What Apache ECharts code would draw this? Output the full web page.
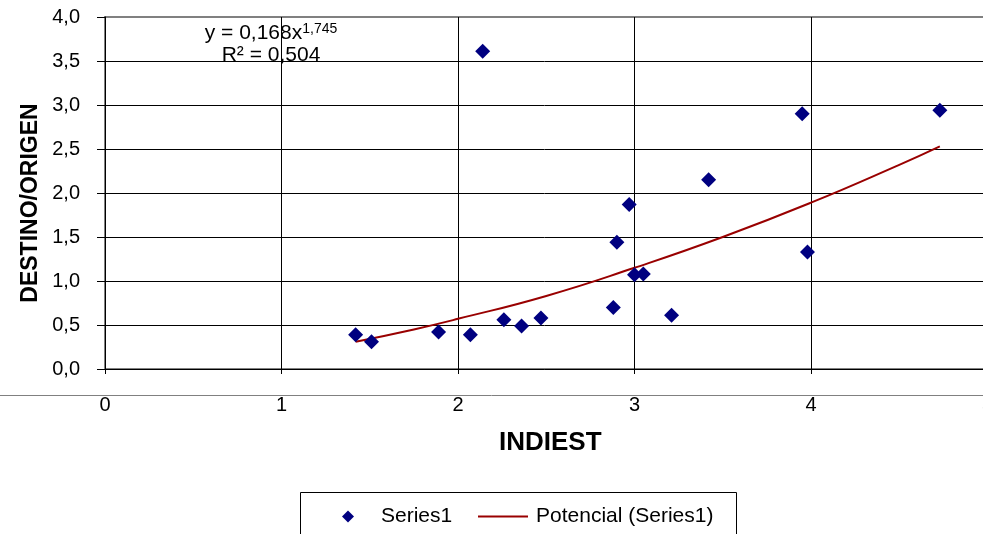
<!DOCTYPE html>
<html>
<head>
<meta charset="utf-8">
<script src="https://cdn.jsdelivr.net/npm/echarts@6/dist/echarts.min.js"></script>
<style>
  html, body { margin: 0; padding: 0; background: #fff; }
  #chart { width: 983px; height: 534px; }
</style>
</head>
<body>
<div id="chart"></div>
<script>
// puntos observados
const indiest = [1.42, 1.51, 1.89, 2.07, 2.14, 2.26, 2.36, 2.47, 2.88, 2.90, 2.97, 3.00, 3.05, 3.21, 3.42, 3.95, 3.98, 4.73]
const destinoOrigen = [0.39, 0.31, 0.42, 0.39, 3.61, 0.56, 0.49, 0.58, 0.70, 1.44, 1.87, 1.07, 1.08, 0.61, 2.15, 2.90, 1.33, 2.94]

// linea de tendencia potencial
const trendX = [1.42, 1.75, 2.0, 2.5, 3.0, 3.5, 4.0, 4.5, 4.73]
const trendY = [0.31, 0.45, 0.57, 0.83, 1.15, 1.50, 1.89, 2.32, 2.53]

const xTicks = [0, 1, 2, 3, 4, 5]
const yTicks = [0, 0.5, 1, 1.5, 2, 2.5, 3, 3.5, 4]

const FONT = "'Liberation Sans', Arial, sans-serif"

const chart = echarts.init(document.getElementById('chart'))

const option = {
  animation: false,
  backgroundColor: '#fff',
  textStyle: { fontFamily: FONT },
  grid: {
    left: 105, top: 17, width: 882.5, height: 352,
    outerBoundsMode: 'none',
    containLabel: false,
    show: true, borderColor: '#808080', borderWidth: 2,
  },
  xAxis: {
    type: 'value',
    min: xTicks[0],
    max: xTicks[xTicks.length - 1],
    interval: 1,
    axisLine: { lineStyle: { color: '#000', width: 1 } },
    axisTick: { show: true, length: 5, lineStyle: { color: '#000' } },
    axisLabel: { fontSize: 20, color: '#000', margin: 26, fontFamily: FONT, showMaxLabel: true },
    splitLine: { show: true, showMinLine: false, lineStyle: { color: '#000', width: 1 } },
    name: 'INDIEST',
    nameLocation: 'middle',
    nameGap: 61,
    nameMoveOverlap: false,
    nameTextStyle: { fontSize: 26, fontWeight: 'bold', color: '#000', fontFamily: FONT, padding: [0, 0, 0, 8] },
  },
  yAxis: {
    type: 'value',
    min: yTicks[0],
    max: yTicks[yTicks.length - 1],
    interval: 0.5,
    axisLine: { show: true, lineStyle: { color: '#000', width: 1 } },
    axisTick: { show: true, length: 8, lineStyle: { color: '#000' } },
    axisLabel: {
      fontSize: 20, color: '#000', margin: 25, fontFamily: FONT,
      formatter: v => v.toFixed(1).replace('.', ','),
    },
    splitLine: { show: true, showMinLine: false, showMaxLine: false, lineStyle: { color: '#000', width: 1 } },
    name: 'DESTINO/ORIGEN',
    nameLocation: 'middle',
    nameGap: 63,
    nameMoveOverlap: false,
    nameTextStyle: { fontSize: 23, fontWeight: 'bold', color: '#000', fontFamily: FONT, padding: [0, 20, 0, 0] },
  },
  legend: [
    {
      data: ['Series1'],
      left: 342, top: 506,
      padding: 0,
      icon: 'diamond',
      itemWidth: 12, itemHeight: 12,
      itemStyle: { opacity: 1 },
      textStyle: { fontSize: 21, color: '#000', fontFamily: FONT, padding: [0, 0, 0, 22] },
    },
    {
      data: ['Potencial (Series1)'],
      left: 478, top: 506,
      padding: 0,
      icon: 'rect',
      itemWidth: 50, itemHeight: 2,
      textStyle: { fontSize: 21, color: '#000', fontFamily: FONT, padding: [0, 0, 0, 3] },
    },
  ],
  graphic: [
    {
      type: 'line', z: 0,
      shape: { x1: 0, y1: 395.5, x2: 983, y2: 395.5 },
      style: { stroke: '#808080', lineWidth: 1 },
    },
    {
      type: 'rect', z: -1,
      shape: { x: 300.5, y: 492.5, width: 436, height: 60 },
      style: { fill: '#fff', stroke: '#000', lineWidth: 1 },
    },
    {
      type: 'text', z: 10,
      x: 271, y: 33,
      style: {
        text: '{a|y = 0,168x}{s|1,745}',
        align: 'center',
        verticalAlign: 'middle',
        fill: '#000',
        rich: {
          a: { fontSize: 21, fontFamily: FONT, lineHeight: 22 },
          s: { fontSize: 14, fontFamily: FONT, verticalAlign: 'top', lineHeight: 22 },
        },
      },
    },
    {
      type: 'text', z: 10,
      x: 271, y: 55,
      style: {
        text: 'R² = 0,504',
        align: 'center',
        verticalAlign: 'middle',
        fill: '#000',
        fontSize: 21,
        fontFamily: FONT,
      },
    },
  ],
  series: [
    {
      name: 'Series1',
      type: 'scatter',
      symbol: 'diamond',
      symbolSize: 15,
      itemStyle: { color: '#000080', opacity: 1 },
      data: indiest.map((x, i) => [x, destinoOrigen[i]]),
      z: 3,
    },
    {
      name: 'Potencial (Series1)',
      type: 'line',
      smooth: true,
      symbol: 'none',
      lineStyle: { color: '#990000', width: 2 },
      itemStyle: { color: '#990000' },
      data: trendX.map((x, i) => [x, trendY[i]]),
      z: 2,
    },
  ],
}

chart.setOption(option)
</script>
</body>
</html>
